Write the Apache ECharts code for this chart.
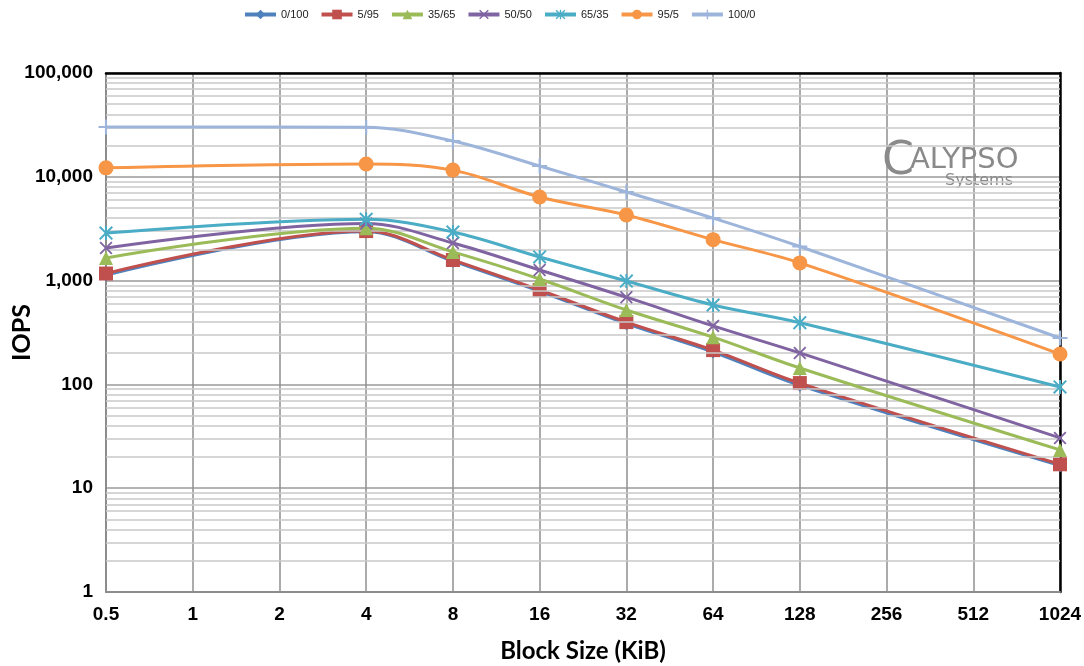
<!DOCTYPE html>
<html>
<head>
<meta charset="utf-8">
<script src="https://cdn.jsdelivr.net/npm/echarts@6/dist/echarts.min.js"></script>
<style>
  html, body { margin: 0; padding: 0; background: #ffffff; }
  #chart { width: 1084px; height: 666px; }
</style>
</head>
<body>
<div id="chart"></div>
<script>
// Block sizes on the x axis (KiB); IOPS measured per read/write mix.
const blockSizes = ['0.5', '1', '2', '4', '8', '16', '32', '64', '128', '256', '512', '1024'];

const iops0_100  = [1130, null, null, 2950, 1540, 790, 385, 205, 98, null, null, 16.5];
const iops5_95   = [1170, null, null, 3000, 1580, 812, 398, 214, 103, null, null, 17];
const iops35_65  = [1650, null, null, 3200, 1890, 1036, 521, 285, 144, null, null, 23.4];
const iops50_50  = [2060, null, null, 3550, 2300, 1265, 692, 366, 201, null, null, 30.5];
const iops65_35  = [2870, null, null, 3900, 2940, 1690, 990, 582, 393, null, null, 94.5];
const iops95_5   = [12200, null, null, 13300, 11600, 6390, 4290, 2480, 1480, null, null, 196];
const iops100_0  = [30200, null, null, 30000, 22100, 12700, 7140, 4000, 2130, null, null, 280];

const mixNames  = ['0/100', '5/95', '35/65', '50/50', '65/35', '95/5', '100/0'];
const mixValues = [iops0_100, iops5_95, iops35_65, iops50_50, iops65_35, iops95_5, iops100_0];
const mixColors = ['#4F81BD', '#C0504D', '#9BBB59', '#8064A2', '#4BACC6', '#F79646', '#9DB5DB'];

// Marker shapes
const crossPath = 'path://M0,1L1,0L5,4L9,0L10,1L6,5L10,9L9,10L5,6L1,10L0,9L4,5Z';
const starPath  = 'path://M0,1L1,0L5,4L9,0L10,1L6,5L10,9L9,10L5,6L1,10L0,9L4,5Z M4.3,0H5.7V10H4.3Z';
const plusPath  = 'path://M4.3,0H5.7V4.3H10V5.7H5.7V10H4.3V5.7H0V4.3H4.3Z';
const mixSymbols = ['diamond', 'rect', 'triangle', crossPath, starPath, 'circle', plusPath];
const mixSymbolSizes = [13, 14, 14, 13, 14, 15, 15];

// Minor log grid positions (2..9 within each decade)
const decades = [1, 10, 100, 1000, 10000];
const minorSteps = [2, 3, 4, 5, 6, 7, 8, 9];
const minorGrid = [];
decades.forEach(d => minorSteps.forEach(s => minorGrid.push({ yAxis: d * s })));

const series = mixNames.map((name, i) => ({
  name: name,
  type: 'line',
  data: mixValues[i],
  connectNulls: true,
  smooth: 0.35,
  symbol: mixSymbols[i],
  symbolSize: mixSymbolSizes[i],
  showAllSymbol: true,
  lineStyle: { width: 3, color: mixColors[i] },
  itemStyle: { color: mixColors[i] },
  z: 3 + i
}));

// Light minor gridlines behind the data
series.unshift({
  name: 'minor-grid',
  type: 'line',
  data: [],
  silent: true,
  z: 1,
  markLine: {
    silent: true,
    symbol: ['none', 'none'],
    label: { show: false },
    lineStyle: { type: 'solid', color: '#c9c9c9', width: 1.5 },
    animation: false,
    data: minorGrid
  }
});

const chart = echarts.init(document.getElementById('chart'), null, { renderer: 'canvas' });

chart.setOption({
  animation: false,
  backgroundColor: '#ffffff',
  color: mixColors,
  legend: {
    data: mixNames,
    top: 4,
    left: 238,
    itemWidth: 31,
    itemHeight: 12,
    itemGap: 11,
    lineStyle: { width: 4 },
    textStyle: { fontFamily: 'Liberation Sans, Arial, sans-serif', fontSize: 11, color: '#222' }
  },
  grid: { left: 106, right: 24, top: 73, bottom: 74, containLabel: false, outerBoundsMode: 'none' },
  xAxis: [
    {
      type: 'category',
      data: blockSizes,
      boundaryGap: false,
      axisLine: { show: true, lineStyle: { color: '#8c8c8c', width: 2 } },
      axisTick: { show: false },
      axisLabel: {
        margin: 13,
        fontFamily: 'Liberation Sans, Arial, sans-serif',
        fontWeight: 'bold',
        fontSize: 19,
        color: '#000'
      },
      splitLine: { show: true, lineStyle: { color: '#8f8f8f', width: 1.5 } },
      name: 'Block Size (KiB)',
      nameLocation: 'middle',
      nameGap: 47,
      nameMoveOverlap: false,
      nameTextStyle: { fontFamily: 'Lato, "Noto Sans", sans-serif', fontWeight: 'bold', fontSize: 24, color: '#000' }
    },
    {
      type: 'category',
      data: blockSizes,
      boundaryGap: false,
      position: 'top',
      axisLine: { show: true, lineStyle: { color: '#000', width: 2.5 } },
      axisTick: { show: false },
      axisLabel: { show: false },
      splitLine: { show: false }
    }
  ],
  yAxis: [
    {
      type: 'log',
      logBase: 10,
      min: 1,
      max: 100000,
      axisLine: { show: true, lineStyle: { color: '#8c8c8c', width: 2 } },
      axisTick: { show: false },
      axisLabel: {
        margin: 13,
        fontFamily: 'Liberation Sans, Arial, sans-serif',
        fontWeight: 'bold',
        fontSize: 19,
        color: '#000',
        formatter: v => Number(v).toLocaleString('en-US')
      },
      splitLine: { show: true, lineStyle: { color: '#9a9a9a', width: 1.5 } },
      name: 'IOPS',
      nameLocation: 'middle',
      nameGap: 72,
      nameRotate: 90,
      nameMoveOverlap: false,
      nameTextStyle: { fontFamily: 'Lato, "Noto Sans", sans-serif', fontWeight: 'bold', fontSize: 25, color: '#000' }
    },
    {
      type: 'log',
      logBase: 10,
      min: 1,
      max: 100000,
      position: 'right',
      axisLine: { show: true, lineStyle: { color: '#000', width: 2.5 } },
      axisTick: { show: false },
      axisLabel: { show: false },
      splitLine: { show: false }
    }
  ],
  graphic: [
    {
      type: 'text',
      left: 882,
      top: 139,
      z: 2,
      style: { text: 'C', fontFamily: '"DejaVu Sans", sans-serif', fontSize: 46, fill: '#8a8a8a' }
    },
    {
      type: 'text',
      left: 910,
      top: 146,
      z: 2,
      style: { text: 'ALYPSO', fontFamily: '"DejaVu Sans", sans-serif', fontSize: 29, fill: '#8a8a8a' }
    },
    {
      type: 'text',
      left: 945,
      top: 173,
      z: 2,
      style: { text: 'Systems', fontFamily: '"DejaVu Sans", sans-serif', fontSize: 16, fill: '#8a8a8a' }
    }
  ],
  series: series
});
</script>
</body>
</html>
